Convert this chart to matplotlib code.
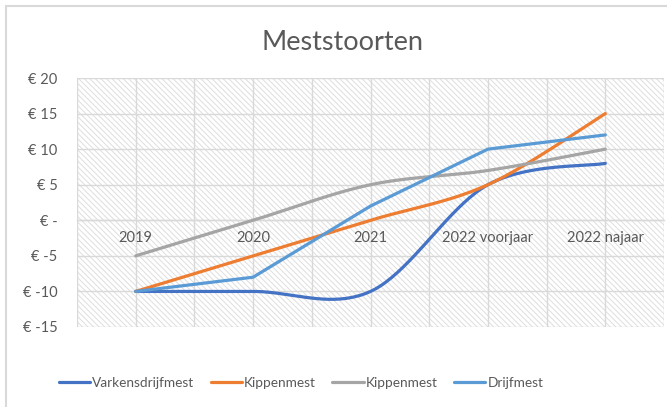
import matplotlib.pyplot as plt
import numpy as np
from matplotlib.patches import Rectangle

categories = ["2019", "2020", "2021", "2022 voorjaar", "2022 najaar"]
varkensdrijfmest = [-10, -10, -10, 5, 8]
kippenmest_1 = [-10, -5, 0, 5, 15]
kippenmest_2 = [-5, 0, 5, 7, 10]
drijfmest = [-10, -8, 2, 10, 12]
y_ticks = [-15, -10, -5, 0, 5, 10, 15, 20]
y_labels = ["€ -15", "€ -10", "€ -5", "€ -", "€ 5", "€ 10", "€ 15", "€ 20"]

plt.rcParams['font.family'] = ['Lato', 'DejaVu Sans']
plt.rcParams['hatch.color'] = '#dedede'
plt.rcParams['hatch.linewidth'] = 0.7
text_col = '#595959'
grid_col = '#d9d9d9'


def smooth(ys, steps=40):
    # excel style smoothed line (bezier, catmull-rom control points)
    x = np.arange(len(ys), dtype=float)
    y = np.asarray(ys, dtype=float)
    px = np.concatenate([[x[0]], x, [x[-1]]])
    py = np.concatenate([[y[0]], y, [y[-1]]])
    out_x, out_y = [], []
    t = np.linspace(0, 1, steps)
    for i in range(len(ys) - 1):
        p0 = np.array([x[i], y[i]])
        p3 = np.array([x[i + 1], y[i + 1]])
        p1 = p0 + (np.array([px[i + 2], py[i + 2]]) - np.array([px[i], py[i]])) / 6
        p2 = p3 - (np.array([px[i + 3], py[i + 3]]) - np.array([px[i + 1], py[i + 1]])) / 6
        b = ((1 - t) ** 3)[:, None] * p0 + (3 * (1 - t) ** 2 * t)[:, None] * p1 \
            + (3 * (1 - t) * t ** 2)[:, None] * p2 + (t ** 3)[:, None] * p3
        out_x.extend(b[:, 0])
        out_y.extend(b[:, 1])
    return out_x, out_y


fig = plt.figure(figsize=(6.67, 4.07), dpi=100)
ax = fig.add_axes([77 / 667, 1 - 327 / 407, 587 / 667, 249 / 407])

fig.patches.append(Rectangle((6 / 667, -0.1), 2, 1.1 - 6 / 407, transform=fig.transFigure,
                             fill=False, edgecolor=grid_col, linewidth=1.5))

ax.patch.set_facecolor('white')
ax.patch.set_hatch('\\' * 6)
ax.patch.set_edgecolor('#dedede')
ax.patch.set_linewidth(0)

lw = 2.3
x = np.arange(len(categories))
sx, sy = smooth(varkensdrijfmest)
ax.plot(sx, sy, color='#4472C4', lw=lw, label='Varkensdrijfmest', solid_capstyle='round')
sx, sy = smooth(kippenmest_1)
ax.plot(sx, sy, color='#ED7D31', lw=lw, label='Kippenmest', solid_capstyle='round')
sx, sy = smooth(kippenmest_2)
ax.plot(sx, sy, color='#A5A5A5', lw=lw, label='Kippenmest', solid_capstyle='round')
ax.plot(x, drijfmest, color='#5B9BD5', lw=lw, label='Drijfmest', solid_capstyle='round')

ax.set_xlim(-0.5, len(categories) - 0.5)
ax.set_ylim(-15, 20)
ax.set_xticks(x)
ax.set_xticklabels(categories)
ax.set_xticks(np.arange(-0.5, len(categories), 0.5), minor=True)
ax.set_yticks(y_ticks)
ax.set_yticklabels(y_labels)

for s in ['top', 'right', 'left']:
    ax.spines[s].set_visible(False)
ax.spines['bottom'].set_position(('data', 0))
ax.spines['bottom'].set_color(grid_col)
ax.spines['bottom'].set_linewidth(1)
ax.spines['bottom'].set_zorder(0.5)

ax.grid(True, which='both', axis='x', color=grid_col, lw=1)
ax.grid(True, which='major', axis='y', color=grid_col, lw=1)
ax.set_axisbelow(True)
ax.tick_params(axis='both', which='both', length=0, colors=text_col, labelsize=10.5)
ax.tick_params(axis='y', pad=14)
ax.tick_params(axis='x', pad=8)

fig.text(343 / 667, 1 - 42 / 407, 'Meststoorten', ha='center', va='center',
         fontsize=19.5, color=text_col)

leg = fig.legend(loc='center left', bbox_to_anchor=(59 / 667, 1 - 383 / 407), ncol=4,
                 frameon=False, fontsize=9.8, handlelength=2.3, handletextpad=0.15,
                 columnspacing=1.2, borderpad=0, borderaxespad=0)
for t in leg.get_texts():
    t.set_color(text_col)

fig.savefig('out.png', dpi=100)
